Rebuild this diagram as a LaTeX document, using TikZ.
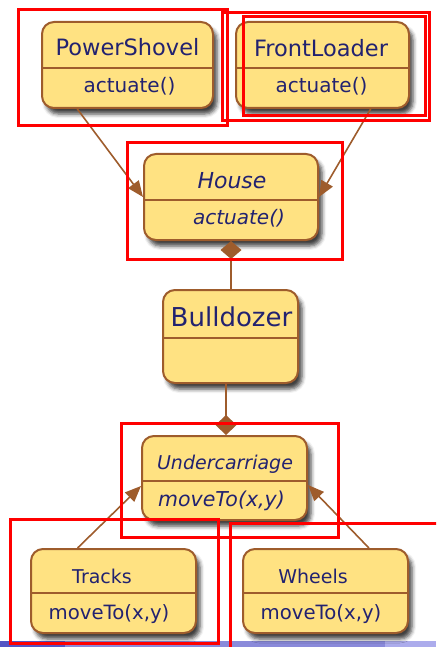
\documentclass[tikz,border=0pt]{standalone}
\usepackage{fontspec}
\setmainfont{DejaVu Sans}
\usepackage{xcolor}
\usetikzlibrary{arrows.meta, calc, shadows.blur}

\definecolor{classfill}{RGB}{255,226,130}
\definecolor{classline}{RGB}{158,92,44}
\definecolor{classtext}{RGB}{34,34,112}
\definecolor{barblue}{RGB}{84,84,196}
\definecolor{barlav}{RGB}{138,138,218}
\definecolor{barpale}{RGB}{172,172,236}

\begin{document}
\begin{tikzpicture}[x=1pt, y=-1pt,
    classbox/.style={draw=classline, line width=2pt, fill=classfill, rounded corners=12pt, inner sep=0pt,
        blur shadow={shadow xshift=4pt, shadow yshift=-6pt, shadow blur radius=4pt, shadow opacity=75}},
    divider/.style={draw=classline, line width=1.6pt},
    label/.style={text=classtext, inner sep=0pt, anchor=base},
    inherit/.style={draw=classline, line width=1.6pt, -{Triangle[length=16pt, width=13pt]}},
    partof/.style={draw=classline, line width=1.6pt},
    markbox/.style={draw=red, line width=3pt}
]
    \clip (0,0) rectangle (436,647);

    % strip along the lower edge
    \fill[barblue] (0,641) rectangle (65,647);
    \fill[barlav] (65,641) rectangle (385,647);
    \fill[barpale] (385,641) rectangle (436,647);

    % PowerShovel
    \node[classbox, minimum width=171pt, minimum height=86pt] (shovel) at (127.5,65) {};
    \draw[divider] ([yshift=-47pt]shovel.north west) -- ([yshift=-47pt]shovel.north east);
    \node[label, font=\fontsize{22.5}{26}\selectfont] (shovelname) at (127.5,56) {PowerShovel};
    \node[label, font=\fontsize{20}{24}\selectfont] (shovelop) at (129.5,93) {actuate()};

    % FrontLoader
    \node[classbox, minimum width=173pt, minimum height=86pt] (loader) at (322.5,65) {};
    \draw[divider] ([yshift=-47pt]loader.north west) -- ([yshift=-47pt]loader.north east);
    \node[label, font=\fontsize{22.5}{26}\selectfont] (loadername) at (321,57) {FrontLoader};
    \node[label, font=\fontsize{20}{24}\selectfont] (loaderop) at (321.5,93) {actuate()};

    % House (abstract)
    \node[classbox, minimum width=174pt, minimum height=86pt] (house) at (231,197) {};
    \draw[divider] ([yshift=-47pt]house.north west) -- ([yshift=-47pt]house.north east);
    \node[label, font=\fontsize{22}{26}\itshape] (housename) at (232,188) {House};
    \node[label, font=\fontsize{20}{24}\itshape] (houseop) at (239,224) {actuate()};

    % Bulldozer
    \node[classbox, minimum width=135pt, minimum height=93pt] (dozer) at (230.5,336.5) {};
    \draw[divider] ([yshift=-49pt]dozer.north west) -- ([yshift=-49pt]dozer.north east);
    \node[label, font=\fontsize{26}{30}\selectfont] (dozername) at (231.5,326) {Bulldozer};

    % Undercarriage (abstract)
    \node[classbox, minimum width=165pt, minimum height=84pt] (carriage) at (224.5,478) {};
    \draw[divider] ([yshift=-46pt]carriage.north west) -- ([yshift=-46pt]carriage.north east);
    \node[label, font=\fontsize{19}{23}\itshape] (carriagename) at (225,469) {Undercarriage};
    \node[label, font=\fontsize{20.5}{24}\itshape] (carriageop) at (221.5,506) {moveTo(x,y)};

    % Tracks
    \node[classbox, minimum width=165pt, minimum height=84pt] (tracks) at (113.5,591) {};
    \draw[divider] ([yshift=-45pt]tracks.north west) -- ([yshift=-45pt]tracks.north east);
    \node[label, font=\fontsize{19}{23}\selectfont] (tracksname) at (102,583) {Tracks};
    \node[label, font=\fontsize{19.7}{24}\selectfont] (tracksop) at (109,619) {moveTo(x,y)};

    % Wheels
    \node[classbox, minimum width=165pt, minimum height=84pt] (wheels) at (325.5,591) {};
    \draw[divider] ([yshift=-45pt]wheels.north west) -- ([yshift=-45pt]wheels.north east);
    \node[label, font=\fontsize{19}{23}\selectfont] (wheelsname) at (313,583) {Wheels};
    \node[label, font=\fontsize{19.7}{24}\selectfont] (wheelsop) at (321,619) {moveTo(x,y)};

    % generalisations
    \draw[inherit] ($(shovel.south west)!0.21!(shovel.south east)$) -- (house.west);
    \draw[inherit] ($(loader.south west)!0.775!(loader.south east)$) -- (house.east);
    \draw[inherit] ($(tracks.north west)!0.285!(tracks.north east)$) -- ([yshift=-8pt]carriage.west);
    \draw[inherit] ($(wheels.north west)!0.76!(wheels.north east)$) -- ([yshift=-7pt]carriage.east);

    % compositions
    \draw[partof, {Diamond[length=18pt, width=21pt]}-] (house.south) -- (house.south |- dozer.north);
    \draw[partof, -{Diamond[length=20pt, width=21pt]}] (dozer.south -| 226,0) -- (carriage.north -| 226,0);

    % red frames
    \draw[markbox] (18,10) rectangle (227,126);
    \draw[markbox] (222,13) rectangle (429,121);
    \draw[markbox] (243,17) rectangle (425,116);
    \draw[markbox] (127,143) rectangle (342,259);
    \draw[markbox] (121,423) rectangle (338,537);
    \draw[markbox] (10,519) rectangle (218,643);
    \draw[markbox] (230,523) rectangle (450,660);
\end{tikzpicture}
\end{document}
